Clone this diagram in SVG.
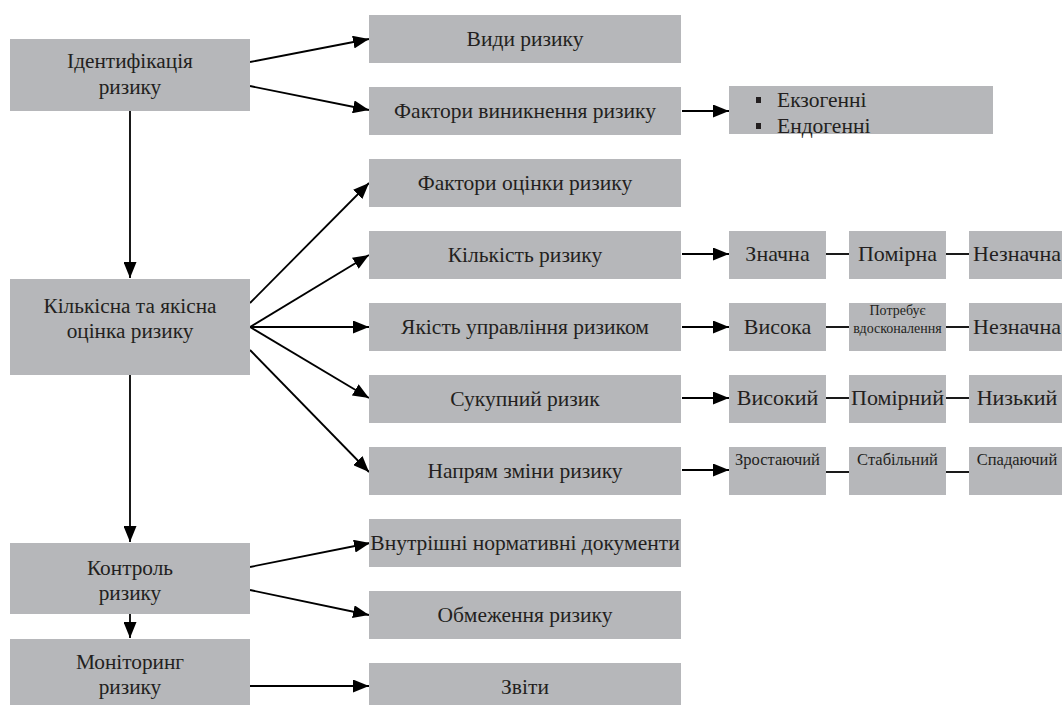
<svg xmlns="http://www.w3.org/2000/svg" width="1062" height="705" viewBox="0 0 1062 705">
<defs>
<marker id="ah" markerUnits="userSpaceOnUse" markerWidth="16" markerHeight="13" refX="16" refY="6.5" orient="auto">
<path d="M0,0 L16,6.5 L0,13 Z" fill="#000"/>
</marker>
<style>
.b{fill:#b6b7ba}
.t{font-family:"Liberation Serif","Times New Roman",serif;fill:#231f20;text-anchor:middle}
.L{font-size:21.3px}
.M{font-size:21.5px}
.V{font-size:22px}
.S{font-size:16.5px}
.XS{font-size:14px}
.c line{stroke:#000;stroke-width:1.8;fill:none}
.c .a{marker-end:url(#ah)}
</style>
</defs>
<rect width="1062" height="705" fill="#fff"/>

<g class="c">
<line class="a" x1="130" y1="111" x2="130" y2="278"/>
<line class="a" x1="130" y1="375" x2="130" y2="542"/>
<line class="a" x1="130" y1="614" x2="130" y2="638"/>
<line class="a" x1="250" y1="62" x2="369" y2="39"/>
<line class="a" x1="250" y1="86" x2="369" y2="110"/>
<line class="a" x1="682" y1="111" x2="729" y2="111"/>
<line class="a" x1="250" y1="303" x2="369" y2="183"/>
<line class="a" x1="250" y1="327" x2="369" y2="255"/>
<line class="a" x1="250" y1="327" x2="369" y2="327"/>
<line class="a" x1="250" y1="327" x2="369" y2="398"/>
<line class="a" x1="250" y1="350" x2="369" y2="472"/>
<line class="a" x1="682" y1="254" x2="729" y2="254"/>
<line class="a" x1="682" y1="327" x2="729" y2="327"/>
<line class="a" x1="682" y1="398" x2="729" y2="398"/>
<line class="a" x1="682" y1="470" x2="729" y2="470"/>
<line x1="826" y1="254" x2="849" y2="254"/>
<line x1="946" y1="254" x2="969" y2="254"/>
<line x1="826" y1="327" x2="849" y2="327"/>
<line x1="946" y1="327" x2="969" y2="327"/>
<line x1="826" y1="398" x2="849" y2="398"/>
<line x1="946" y1="398" x2="969" y2="398"/>
<line x1="826" y1="472" x2="849" y2="472"/>
<line x1="946" y1="472" x2="969" y2="472"/>
<line class="a" x1="250" y1="567" x2="370" y2="543"/>
<line class="a" x1="250" y1="590" x2="369" y2="615"/>
<line class="a" x1="250" y1="686" x2="369" y2="686"/>
</g>

<g id="n-ident"><rect class="b" x="10" y="39" width="240" height="72"/><text class="t L" x="130" y="68">Ідентифікація</text><text class="t L" x="130" y="94">ризику</text></g>
<g id="n-ocinka"><rect class="b" x="10" y="279" width="240" height="96"/><text class="t L" x="130" y="313">Кількісна та якісна</text><text class="t L" x="130" y="338">оцінка ризику</text></g>
<g id="n-kontrol"><rect class="b" x="10" y="543" width="240" height="71"/><text class="t L" x="130" y="575">Контроль</text><text class="t L" x="130" y="600">ризику</text></g>
<g id="n-monitor"><rect class="b" x="10" y="639" width="240" height="72"/><text class="t L" x="130" y="669">Моніторинг</text><text class="t L" x="130" y="694">ризику</text></g>

<g id="n-vydy"><rect class="b" x="369" y="15" width="312" height="48"/><text class="t M" x="525" y="46">Види ризику</text></g>
<g id="n-faktvyn"><rect class="b" x="369" y="87" width="312" height="48"/><text class="t M" x="525" y="118">Фактори виникнення ризику</text></g>
<g id="n-ekzo"><rect class="b" x="729" y="86" width="264" height="48"/><rect x="756" y="97" width="5" height="6" fill="#231f20"/><rect x="756" y="123" width="5" height="6" fill="#231f20"/><text class="t M" x="777" y="107" style="text-anchor:start">Екзогенні</text><text class="t M" x="777" y="133" style="text-anchor:start">Ендогенні</text></g>
<g id="n-faktoc"><rect class="b" x="369" y="159" width="312" height="48"/><text class="t M" x="525" y="190">Фактори оцінки ризику</text></g>
<g id="n-kilk"><rect class="b" x="369" y="231" width="312" height="48"/><text class="t M" x="525" y="262">Кількість ризику</text></g>
<g id="n-yakist"><rect class="b" x="369" y="303" width="312" height="48"/><text class="t M" x="525" y="334">Якість управління ризиком</text></g>
<g id="n-sukup"><rect class="b" x="369" y="375" width="312" height="48"/><text class="t M" x="525" y="406">Сукупний ризик</text></g>
<g id="n-napr"><rect class="b" x="369" y="447" width="312" height="48"/><text class="t M" x="525" y="478">Напрям зміни ризику</text></g>
<g id="n-vnutr"><rect class="b" x="369" y="519" width="312" height="48"/><text class="t M" x="525" y="550">Внутрішні нормативні документи</text></g>
<g id="n-obmezh"><rect class="b" x="369" y="591" width="312" height="48"/><text class="t M" x="525" y="622">Обмеження ризику</text></g>
<g id="n-zvity"><rect class="b" x="369" y="663" width="312" height="48"/><text class="t M" x="525" y="694">Звіти</text></g>

<g id="n-znachna"><rect class="b" x="729" y="231" width="97" height="48"/><text class="t V" x="777.5" y="261">Значна</text></g>
<g id="n-pomirna"><rect class="b" x="849" y="231" width="97" height="48"/><text class="t V" x="897.5" y="261">Помірна</text></g>
<g id="n-neznachna1"><rect class="b" x="969" y="231" width="97" height="48"/><text class="t V" x="1017" y="261">Незначна</text></g>
<g id="n-vysoka"><rect class="b" x="729" y="303" width="97" height="48"/><text class="t V" x="777.5" y="334">Висока</text></g>
<g id="n-potrebuye"><rect class="b" x="849" y="303" width="97" height="48"/><text class="t XS" x="897.5" y="315">Потребує</text><text class="t XS" x="897.5" y="333">вдосконалення</text></g>
<g id="n-neznachna2"><rect class="b" x="969" y="303" width="97" height="48"/><text class="t V" x="1017" y="334">Незначна</text></g>
<g id="n-vysokyi"><rect class="b" x="729" y="375" width="97" height="48"/><text class="t V" x="777.5" y="405">Високий</text></g>
<g id="n-pomirnyi"><rect class="b" x="849" y="375" width="97" height="48"/><text class="t V" x="897.5" y="405">Помірний</text></g>
<g id="n-nyzkyi"><rect class="b" x="969" y="375" width="97" height="48"/><text class="t V" x="1017" y="405">Низький</text></g>
<g id="n-zrost"><rect class="b" x="729" y="447" width="97" height="48"/><text class="t S" x="777.5" y="465">Зростаючий</text></g>
<g id="n-stab"><rect class="b" x="849" y="447" width="97" height="48"/><text class="t S" x="897.5" y="465">Стабільний</text></g>
<g id="n-spad"><rect class="b" x="969" y="447" width="97" height="48"/><text class="t S" x="1017" y="465">Спадаючий</text></g>
</svg>
